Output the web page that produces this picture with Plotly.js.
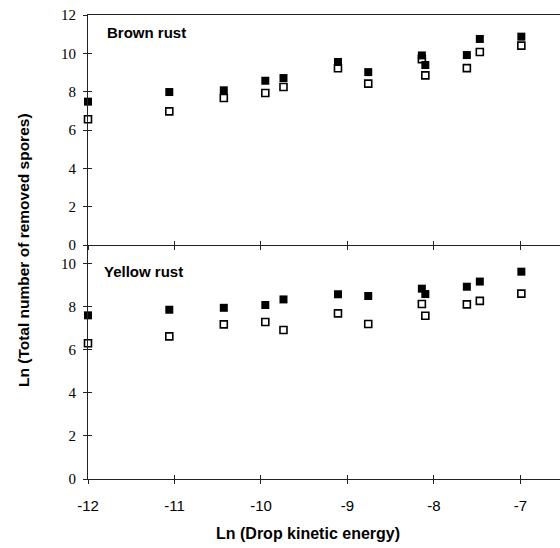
<!DOCTYPE html>
<html>
<head>
<meta charset="utf-8">
<script src="https://cdn.plot.ly/plotly-3.0.1.min.js"></script>
<style>html,body{margin:0;padding:0;background:#fff}#chart{width:560px;height:548px}</style>
</head>
<body>
<div id="chart"></div>
<script>
// Ln (Drop kinetic energy)
const energy = [-12.0, -11.06, -10.43, -9.95, -9.74, -9.11, -8.76, -8.14, -8.10, -7.62, -7.47, -6.99];
// Brown rust
const brownFilled = [7.48, 7.98, 8.07, 8.57, 8.71, 9.55, 9.02, 9.89, 9.39, 9.91, 10.75, 10.87];
const brownOpen   = [6.56, 6.97, 7.67, 7.93, 8.24, 9.22, 8.42, 9.70, 8.85, 9.23, 10.07, 10.40];
// Yellow rust
const yellowFilled = [7.61, 7.87, 7.96, 8.09, 8.35, 8.59, 8.51, 8.85, 8.60, 8.94, 9.18, 9.64];
const yellowOpen   = [6.31, 6.63, 7.19, 7.30, 6.93, 7.70, 7.21, 8.14, 7.59, 8.12, 8.28, 8.62];
const xTicks = [-12, -11, -10, -9, -8, -7];
const yTicksTop = [0, 2, 4, 6, 8, 10, 12];
const yTicksBottom = [0, 2, 4, 6, 8, 10];

const openMarker = {symbol: 'square', size: 7, color: '#ffffff', line: {color: '#000', width: 1.6}};
const filledMarker = {symbol: 'square', size: 8, color: '#000', line: {color: '#000', width: 0}};

const traces = [
  {x: energy, y: brownOpen, xaxis: 'x2', yaxis: 'y2', mode: 'markers', type: 'scatter', marker: openMarker, cliponaxis: false},
  {x: energy, y: brownFilled, xaxis: 'x2', yaxis: 'y2', mode: 'markers', type: 'scatter', marker: filledMarker, cliponaxis: false},
  {x: energy, y: yellowOpen, xaxis: 'x', yaxis: 'y', mode: 'markers', type: 'scatter', marker: openMarker, cliponaxis: false},
  {x: energy, y: yellowFilled, xaxis: 'x', yaxis: 'y', mode: 'markers', type: 'scatter', marker: filledMarker, cliponaxis: false},
  // empty traces to create overlay axes for crossing tick marks
  {x: [], y: [], xaxis: 'x3', yaxis: 'y3', type: 'scatter', mode: 'markers', hoverinfo: 'skip'},
  {x: [], y: [], xaxis: 'x4', yaxis: 'y4', type: 'scatter', mode: 'markers', hoverinfo: 'skip'}
];

const split = 0.5043;
const xRange = [-12, -6.543];
const lineC = '#222';
const serif = {family: 'Liberation Serif, Times New Roman, serif', size: 15, color: '#000'};
const sans = {family: 'Liberation Sans, Arial, sans-serif', size: 15, color: '#000'};
const boldSans = {family: 'Liberation Sans, Arial, sans-serif', size: 15.5, color: '#000', weight: 'bold'};

const baseX = {range: xRange, showgrid: false, zeroline: false, showline: true, linecolor: lineC, linewidth: 1,
  tickmode: 'array', tickvals: xTicks, ticks: 'outside', ticklen: 4, tickcolor: lineC, tickwidth: 1};
const baseY = {showgrid: false, zeroline: false, showline: true, linecolor: lineC, linewidth: 1,
  tickmode: 'array', ticks: 'outside', ticklen: 4, tickcolor: lineC, tickwidth: 1, tickfont: serif, ticklabelstandoff: 4};

const layout = {
  width: 560, height: 548,
  margin: {l: 88, r: 0, t: 15, b: 69},
  paper_bgcolor: '#fff', plot_bgcolor: 'rgba(0,0,0,0)',
  showlegend: false,
  xaxis: Object.assign({}, baseX, {anchor: 'y', domain: [0, 1], tickvals: xTicks, ticktext: xTicks.map(String), tickfont: sans, ticklabelstandoff: 9}),
  xaxis2: Object.assign({}, baseX, {anchor: 'y2', matches: 'x', showticklabels: false, mirror: true}),
  xaxis3: Object.assign({}, baseX, {anchor: 'y', overlaying: 'x', ticks: 'inside', showticklabels: false, showline: false}),
  xaxis4: Object.assign({}, baseX, {anchor: 'y2', overlaying: 'x2', ticks: 'inside', showticklabels: false, showline: false}),
  yaxis: Object.assign({}, baseY, {anchor: 'x', domain: [0, split], range: [0, 10.88], tickvals: yTicksBottom}),
  yaxis2: Object.assign({}, baseY, {anchor: 'x2', domain: [split, 1], range: [0, 12], tickvals: yTicksTop}),
  yaxis3: Object.assign({}, baseY, {anchor: 'x3', overlaying: 'y', range: [0, 10.88], tickvals: yTicksBottom, ticks: 'inside', ticklen: 4, showticklabels: false, showline: false}),
  yaxis4: Object.assign({}, baseY, {anchor: 'x4', overlaying: 'y2', range: [0, 12], tickvals: yTicksTop, ticks: 'inside', ticklen: 4, showticklabels: false, showline: false}),
  annotations: [
    {text: 'Brown rust', xref: 'paper', yref: 'paper', x: 0.036, y: 0.963, xanchor: 'left', yanchor: 'middle', showarrow: false, font: {family: boldSans.family, size: 15, weight: 'bold', color: '#000'}},
    {text: 'Yellow rust', xref: 'paper', yref: 'paper', x: 0.0297, y: 0.448, xanchor: 'left', yanchor: 'middle', showarrow: false, font: {family: boldSans.family, size: 15, weight: 'bold', color: '#000'}},
    {text: 'Ln (Total number of removed spores)', xref: 'paper', yref: 'paper', x: -0.1377, y: 0.4935, xanchor: 'center', yanchor: 'middle', textangle: -90, showarrow: false, font: boldSans},
    {text: 'Ln (Drop kinetic energy)', xref: 'paper', yref: 'paper', x: 0.466, y: -0.1164, xanchor: 'center', yanchor: 'middle', showarrow: false, font: {family: boldSans.family, size: 16, weight: 'bold', color: '#000'}}
  ]
};

Plotly.newPlot('chart', traces, layout, {staticPlot: true, displayModeBar: false});
</script>
</body>
</html>
